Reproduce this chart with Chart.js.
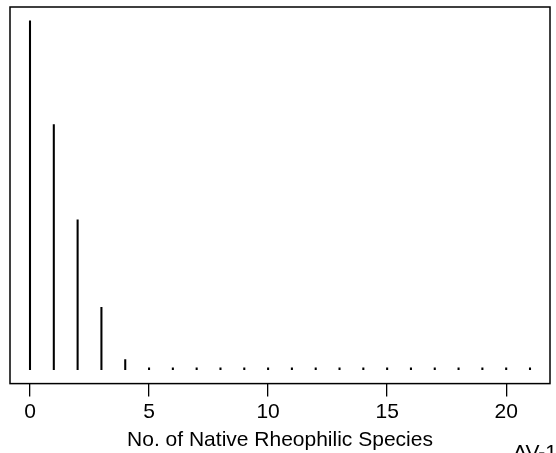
<!DOCTYPE html>
<html>
<head>
<meta charset="utf-8">
<script src="https://cdn.jsdelivr.net/npm/chart.js@4"></script>
<style>
  html, body { margin: 0; padding: 0; background: #fff; overflow: hidden; }
  #wrap { position: relative; width: 556px; height: 453px; overflow: hidden; }
  #tag { position: absolute; left: 513px; top: 440px; font: 21px "Liberation Sans", Arial, sans-serif; color: #000; white-space: nowrap; }
</style>
</head>
<body>
<div id="wrap">
  <canvas id="myChart" width="556" height="453"></canvas>
  <div id="tag">AV-1</div>
</div>
<script>
// number of native rheophilic species (0..21) and relative frequency
const species = [0, 1, 2, 3, 4, 5, 6, 7, 8, 9, 10, 11, 12, 13, 14, 15, 16, 17, 18, 19, 20, 21];
const freq = [1.0, 0.703, 0.43, 0.179, 0.029, 0.005, 0.005, 0.005, 0.005, 0.005, 0.005,
  0.005, 0.005, 0.005, 0.005, 0.005, 0.005, 0.005, 0.005, 0.005, 0.005, 0.005];
const xTicks = [0, 5, 10, 15, 20];
const xTitle = "No. of Native Rheophilic Species";

const font = { family: "'Liberation Sans', Arial, sans-serif", size: 21 };

const boxPlugin = {
  id: "box",
  afterDraw(chart) {
    const { ctx, chartArea: a } = chart;
    ctx.save();
    ctx.strokeStyle = "#000";
    ctx.lineWidth = 1.5;
    ctx.strokeRect(a.left, a.top, a.right - a.left, a.bottom - a.top);
    ctx.restore();
  },
};

const ctx = document.getElementById("myChart");
new Chart(ctx, {
  type: "bar",
  data: {
    datasets: [
      {
        data: species.map((s, i) => ({ x: s, y: freq[i] })),
        backgroundColor: "#000",
        borderWidth: 0,
        barThickness: 1.4,
      },
    ],
  },
  options: {
    responsive: false,
    animation: false,
    events: [],
    layout: { padding: { left: 10, right: 6, top: 7, bottom: 0 } },
    plugins: { legend: { display: false }, tooltip: { enabled: false } },
    scales: {
      x: {
        type: "linear",
        min: -0.84,
        max: 21.84,
        offset: false,
        afterBuildTicks: (axis) => {
          axis.ticks = xTicks.map((v) => ({ value: v }));
        },
        grid: { offset: false, drawOnChartArea: false, color: "#000", lineWidth: 1.3, tickLength: 13 },
        border: { display: false },
        ticks: { color: "#000", font: font, padding: 3, maxRotation: 0 },
        title: { display: true, text: xTitle, color: "#000", font: font, padding: { top: 0, bottom: 0 } },
      },
      y: {
        display: false,
        min: -0.04,
        max: 1.04,
      },
    },
  },
  plugins: [boxPlugin],
});
</script>
</body>
</html>
